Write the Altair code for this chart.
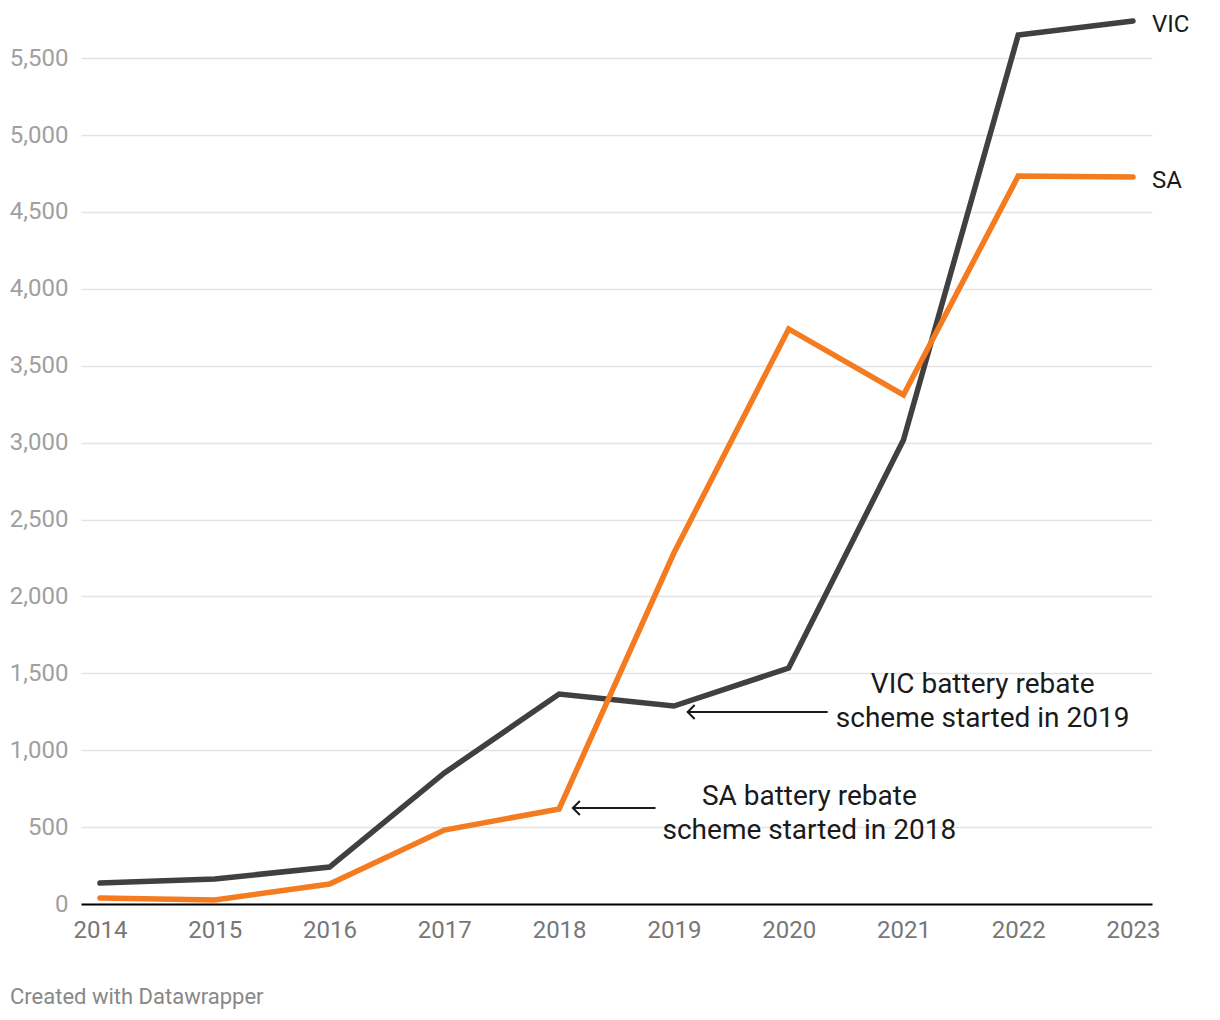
import altair as alt
import pandas as pd

years = [2014, 2015, 2016, 2017, 2018, 2019, 2020, 2021, 2022, 2023]
vic = [136, 163, 240, 852, 1365, 1287, 1534, 3017, 5650, 5741]
sa = [39, 26, 130, 481, 618, 2282, 3739, 3310, 4733, 4727]
series_names = ["VIC", "SA"]
series_colors = ["#404040", "#f47b20"]
y_ticks = [0, 500, 1000, 1500, 2000, 2500, 3000, 3500, 4000, 4500, 5000, 5500]

ann_text = ["VIC battery rebate", "scheme started in 2019",
            "SA battery rebate", "scheme started in 2018"]
ann_x = [2021.69, 2021.69, 2020.18, 2020.18]
ann_y = [1424, 1205, 696, 477]

arrow_x_start = [2020.34, 2018.84]
arrow_x_end = [2019.12, 2018.12]
arrow_y = [1248, 624]

W, H = 1071, 892
FONT = "Roboto"

rows = []
for i, y in enumerate(years):
    rows.append({"year": y, "value": vic[i], "series": "VIC"})
    rows.append({"year": y, "value": sa[i], "series": "SA"})
df = pd.DataFrame(rows)

ann_df = pd.DataFrame({"text": ann_text, "x": ann_x, "y": ann_y})
arr_df = pd.DataFrame({"x1": arrow_x_start, "x2": arrow_x_end, "y": arrow_y})

xscale = alt.Scale(domain=[2013.8345, 2023.1655], nice=False, zero=False)
yscale = alt.Scale(domain=[0, 5800], nice=False)
color = alt.Color("series:N", scale=alt.Scale(domain=series_names, range=series_colors), legend=None)

base = alt.Chart(df)

lines = base.mark_line(strokeWidth=5.5, strokeJoin="miter", strokeCap="round").encode(
    x=alt.X("year:Q", scale=xscale,
            axis=alt.Axis(values=years, format="d", title=None, grid=False, ticks=False,
                          domainColor="#000000", domainWidth=2, labelFont=FONT, labelFontSize=24,
                          labelColor="#777777", labelPadding=14)),
    y=alt.Y("value:Q", scale=yscale,
            axis=alt.Axis(values=y_ticks, format=",.0f", title=None, domain=False, ticks=False,
                          gridColor="#e3e3e3", gridWidth=1.5, labelFont=FONT, labelFontSize=24,
                          labelColor="#a0a0a0", labelPadding=13)),
    color=color,
    detail="series:N",
)

end_labels = base.transform_filter(alt.datum.year == 2023).mark_text(
    align="left", baseline="middle", dx=19, dy=4, font=FONT, fontSize=24, color="#1a1a1a"
).encode(x=alt.X("year:Q", scale=xscale), y=alt.Y("value:Q", scale=yscale), text="series:N")

ann = alt.Chart(ann_df).mark_text(
    align="center", baseline="middle", font=FONT, fontSize=28, color="#1a1a1a"
).encode(x=alt.X("x:Q", scale=xscale), y=alt.Y("y:Q", scale=yscale), text="text:N")

shafts = alt.Chart(arr_df).mark_rule(color="#1a1a1a", strokeWidth=2).encode(
    x=alt.X("x1:Q", scale=xscale), x2="x2:Q", y=alt.Y("y:Q", scale=yscale)
)

heads = alt.Chart(arr_df).mark_point(
    shape="M1,-1L0,0L1,1", filled=False, size=196, stroke="#1a1a1a", strokeWidth=2, opacity=1
).encode(x=alt.X("x2:Q", scale=xscale), y=alt.Y("y:Q", scale=yscale))

chart = alt.layer(lines, end_labels, shafts, heads, ann).properties(
    width=W, height=H,
    autosize=alt.AutoSizeParams(type="none"),
    padding={"left": 73, "top": 4, "right": 60, "bottom": 110},
    title=alt.TitleParams(
        "Created with Datawrapper", orient="bottom", anchor="start", frame="group", dx=-71, offset=45,
        font=FONT, fontSize=22, fontWeight="normal", color="#888888"
    ),
).configure_view(stroke=None)

chart.save("out.html", embed_options={"renderer": "svg", "actions": False})
